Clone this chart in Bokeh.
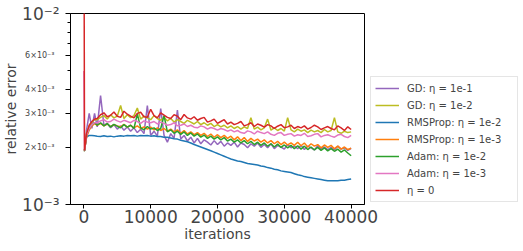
from bokeh.plotting import figure
from bokeh.models import Range1d, FixedTicker, Legend, LegendItem, LogAxis
from bokeh.embed import file_html
from bokeh.resources import INLINE
import numpy as np

FONT = "DejaVu Sans"
ERR_UNIT = 1e-3  # values below are given in units of 1e-3

# iteration grid
iters_head = [0, 100, 400, 800, 1200, 1600]
iters_body = list(range(2000, 40001, 500))
iterations = iters_head + iters_body

# ---- series values (x 1e-3) ----
gd_1e1 = [1.92, 1.92, 2.45, 3.00, 2.50, 3.00,
          2.55, 3.72, 2.60, 2.66, 2.52, 2.62, 2.48, 2.58, 2.45, 2.55,
          2.42, 2.52, 2.38, 2.48, 2.35, 3.30, 2.30, 2.42, 2.28, 3.18,
          2.30, 2.12, 2.35, 2.22, 3.12, 2.20, 2.30, 2.15, 2.25, 2.10,
          2.22, 2.08, 2.18, 2.12, 2.05, 2.16, 2.06, 2.14, 2.02, 2.10,
          2.04, 2.12, 2.00, 2.10, 2.06, 1.98, 2.08, 2.02, 2.10, 1.99,
          2.06, 1.98, 2.08, 1.96, 2.04, 2.00, 1.95, 2.06, 1.98, 2.02,
          1.96, 2.04, 1.94, 2.02, 1.98, 1.93, 2.03, 1.96, 2.00, 1.94,
          1.99, 1.93, 2.02, 1.95, 1.98, 1.92, 1.97]

gd_1e2 = [1.92, 1.92, 2.35, 2.58, 2.70, 2.78,
          2.78, 2.86, 2.92, 2.80, 2.95, 2.84, 2.90, 3.30, 2.82, 2.95,
          2.85, 2.92, 3.20, 2.80, 2.90, 2.84, 2.78, 2.92, 2.82, 2.76,
          2.86, 2.74, 2.82, 2.70, 2.78, 2.72, 2.66, 2.76, 2.70, 2.64,
          2.72, 2.62, 2.68, 2.60, 2.66, 2.56, 2.62, 2.55, 2.60, 2.52,
          2.58, 2.50, 2.56, 2.48, 2.55, 2.50, 2.85, 2.48, 2.54, 2.46,
          2.52, 2.80, 2.45, 2.52, 2.44, 2.50, 2.42, 2.85, 2.46, 2.40,
          2.48, 2.42, 2.46, 2.38, 2.45, 2.40, 2.44, 2.38, 2.47, 2.40,
          2.44, 2.85, 2.40, 2.36, 2.42, 2.38, 2.40]

rms_1e2 = [1.92, 1.92, 2.25, 2.30, 2.30, 2.29,
           2.28, 2.27, 2.29, 2.27, 2.28, 2.26, 2.28, 2.29, 2.28, 2.30,
           2.29, 2.30, 2.28, 2.30, 2.29, 2.30, 2.28, 2.29, 2.27, 2.27,
           2.25, 2.25, 2.23, 2.21, 2.20, 2.17, 2.15, 2.13, 2.10, 2.06,
           2.03, 2.00, 1.97, 1.94, 1.91, 1.88, 1.85, 1.82, 1.79, 1.76,
           1.73, 1.71, 1.69, 1.68, 1.66, 1.64, 1.63, 1.62, 1.61, 1.59,
           1.58, 1.56, 1.55, 1.53, 1.52, 1.50, 1.49, 1.48, 1.47, 1.45,
           1.43, 1.42, 1.40, 1.39, 1.38, 1.37, 1.36, 1.35, 1.34, 1.33,
           1.33, 1.33, 1.33, 1.34, 1.34, 1.35, 1.36]

rms_1e3 = [1.92, 1.92, 2.25, 2.45, 2.58, 2.65,
           2.60, 2.66, 2.58, 2.64, 2.56, 2.62, 2.58, 2.55, 2.63, 2.54,
           2.60, 2.52, 2.58, 2.50, 2.55, 2.48, 2.54, 2.46, 2.52, 2.44,
           2.50, 2.42, 2.48, 2.40, 2.46, 2.36, 2.44, 2.34, 2.40, 2.32,
           2.38, 2.30, 2.36, 2.27, 2.34, 2.25, 2.32, 2.24, 2.30, 2.22,
           2.28, 2.18, 2.26, 2.16, 2.24, 2.14, 2.22, 2.15, 2.20, 2.12,
           2.18, 2.10, 2.16, 2.08, 2.14, 2.06, 2.12, 2.05, 2.10, 2.04,
           2.12, 2.03, 2.10, 2.00, 2.08, 2.02, 2.06, 1.98, 2.05, 1.99,
           2.04, 1.96, 2.02, 1.95, 2.00, 1.94, 1.97]

adam_1e2 = [1.92, 1.92, 2.30, 2.50, 2.62, 2.68,
            2.60, 2.68, 2.58, 2.65, 2.55, 2.63, 2.57, 2.52, 2.62, 2.54,
            2.60, 2.50, 2.98, 2.52, 2.46, 2.56, 2.48, 2.52, 2.44, 2.50,
            2.92, 2.40, 2.46, 2.36, 2.42, 2.33, 2.40, 2.30, 2.37, 2.28,
            2.34, 2.25, 2.31, 2.22, 2.28, 2.20, 2.26, 2.18, 2.24, 2.15,
            2.20, 2.12, 2.18, 2.10, 2.16, 2.08, 2.14, 2.06, 2.12, 2.04,
            2.10, 2.02, 2.08, 2.00, 2.07, 1.99, 2.05, 1.98, 2.04, 1.96,
            2.03, 1.95, 2.02, 1.94, 2.00, 1.93, 1.99, 1.92, 1.98, 1.91,
            1.96, 1.90, 1.95, 1.88, 1.93, 1.86, 1.80]

adam_1e3 = [5.00, 1.92, 2.30, 2.50, 2.62, 2.68,
            2.68, 2.74, 2.78, 2.70, 2.72, 2.80, 2.74, 2.70, 2.76, 2.72,
            2.68, 2.76, 2.72, 2.66, 2.74, 2.70, 2.68, 2.72, 2.64, 2.70,
            2.66, 2.60, 2.62, 2.68, 2.58, 2.60, 2.64, 2.56, 2.60, 2.54,
            2.52, 2.58, 2.55, 2.48, 2.53, 2.50, 2.45, 2.50, 2.47, 2.42,
            2.46, 2.40, 2.44, 2.38, 2.36, 2.43, 2.40, 2.34, 2.42, 2.38,
            2.35, 2.40, 2.33, 2.30, 2.36, 2.38, 2.30, 2.33, 2.35, 2.28,
            2.32, 2.30, 2.36, 2.27, 2.29, 2.33, 2.35, 2.26, 2.30, 2.32,
            2.28, 2.25, 2.31, 2.33, 2.27, 2.24, 2.30]

eta_zero = [50.0, 1.92, 2.35, 2.60, 2.72, 2.80,
            2.82, 2.95, 3.02, 2.88, 2.93, 3.05, 2.90, 2.86, 3.08, 2.97,
            2.90, 2.84, 3.00, 3.04, 2.88, 2.86, 3.15, 2.92, 2.84, 3.02,
            2.94, 2.86, 2.82, 2.95, 2.90, 2.78, 2.96, 2.84, 2.80, 2.88,
            2.76, 2.82, 2.86, 2.70, 2.74, 2.80, 2.66, 2.72, 2.78, 2.64,
            2.70, 2.62, 2.66, 2.72, 2.58, 2.62, 2.68, 2.56, 2.64, 2.60,
            2.54, 2.62, 2.58, 2.50, 2.57, 2.62, 2.52, 2.55, 2.60, 2.50,
            2.56, 2.52, 2.58, 2.48, 2.53, 2.60, 2.55, 2.47, 2.52, 2.56,
            2.50, 2.46, 2.58, 2.52, 2.44, 2.55, 2.47]

series_labels = ["GD: η = 1e-1", "GD: η = 1e-2", "RMSProp: η = 1e-2",
                 "RMSProp: η = 1e-3", "Adam: η = 1e-2", "Adam: η = 1e-3", "η = 0"]
series_values = [gd_1e1, gd_1e2, rms_1e2, rms_1e3, adam_1e2, adam_1e3, eta_zero]
series_colors = ["#9467bd", "#bcbd22", "#1f77b4", "#ff7f0e", "#2ca02c", "#e377c2", "#d62728"]

x_ticks = [0, 10000, 20000, 30000, 40000]
y_decades = [1e-3, 1e-2]
y_decade_labels = ["10⁻³", "10⁻²"]
y_small_ticks = [2e-3, 3e-3, 4e-3, 6e-3]
y_small_labels = ["2×10⁻³", "3×10⁻³", "4×10⁻³", "6×10⁻³"]
y_unlabeled_minor = [5e-3, 7e-3, 8e-3, 9e-3]

p = figure(width=516, height=251, frame_width=294, frame_height=191,
           x_range=Range1d(-2000, 42000), y_range=Range1d(1e-3, 1e-2),
           y_axis_type="log", output_backend="svg", toolbar_location=None,
           min_border_left=70, min_border_top=13, min_border_right=152,
           min_border_bottom=47)
p.outline_line_color = "black"
p.outline_line_width = 1
p.xgrid.visible = False
p.ygrid.visible = False
p.background_fill_color = "white"
p.border_fill_color = "white"

renderers = []
for vals, col in zip(series_values, series_colors):
    y = np.array(vals) * ERR_UNIT
    r = p.line(iterations, y, line_color=col, line_width=1.5)
    renderers.append(r)

# x axis
xa = p.xaxis[0]
xa.ticker = FixedTicker(ticks=x_ticks, minor_ticks=[])
xa.axis_label = "iterations"
xa.axis_label_text_font = FONT
xa.axis_label_text_font_size = "14px"
xa.axis_label_text_font_style = "normal"
xa.axis_label_standoff = 0
xa.major_label_text_font = FONT
xa.major_label_text_font_size = "17px"
xa.major_label_standoff = 1
xa.major_tick_out = 4
xa.major_tick_in = 0
xa.minor_tick_out = 0
xa.axis_line_color = "black"

# inner y axis: all ticks, small labels at 2,3,4,6 x 10^-3
ya = p.yaxis[0]
ya.ticker = FixedTicker(ticks=y_decades + y_small_ticks, minor_ticks=y_unlabeled_minor)
overrides = {t: "" for t in y_decades}
overrides.update({t: s for t, s in zip(y_small_ticks, y_small_labels)})
ya.major_label_overrides = overrides
ya.major_label_text_font = FONT
ya.major_label_text_font_size = "8px"
ya.major_label_standoff = 11
ya.major_tick_out = 5
ya.major_tick_in = 0
ya.minor_tick_out = 3
ya.minor_tick_in = 0
ya.axis_line_color = "black"
ya.axis_label = None

# outer y axis: decade labels, pulled in towards the frame
yb = LogAxis(ticker=FixedTicker(ticks=y_decades, minor_ticks=[]))
yb.major_label_overrides = {t: s for t, s in zip(y_decades, y_decade_labels)}
yb.major_label_text_font = FONT
yb.major_label_text_font_size = "17px"
yb.major_label_standoff = -37
yb.major_tick_out = 0
yb.major_tick_in = 0
yb.minor_tick_out = 0
yb.minor_tick_in = 0
yb.axis_line_color = None
yb.axis_label = "relative error"
yb.axis_label_text_font = FONT
yb.axis_label_text_font_size = "14px"
yb.axis_label_text_font_style = "normal"
yb.axis_label_standoff = 0
p.add_layout(yb, "left")

items = [LegendItem(label=lab, renderers=[r]) for lab, r in zip(series_labels, renderers)]
legend = Legend(items=items, location=(6, 2),
                label_text_font=FONT, label_text_font_size="10px",
                glyph_width=24, glyph_height=14, label_height=14, label_width=106,
                spacing=3, padding=4, margin=0, label_standoff=8,
                border_line_color="#cccccc", border_line_width=1,
                background_fill_alpha=0.8)
p.add_layout(legend, "right")

open("out.html", "w").write(file_html(p, INLINE))
